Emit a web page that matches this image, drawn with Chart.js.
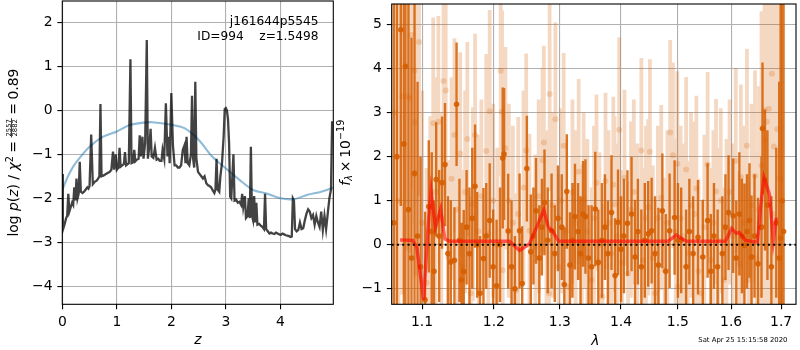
<!DOCTYPE html>
<html><head><meta charset="utf-8">
<script src="https://cdn.jsdelivr.net/npm/chart.js@4/dist/chart.umd.min.js"></script>
<style>
html,body{margin:0;padding:0;background:#fff;}
#wrap{position:relative;width:800px;height:350px;overflow:hidden;}
canvas{position:absolute;left:0;top:0;}
</style></head>
<body><div id="wrap"><canvas id="cl" width="800" height="350"></canvas><canvas id="cr" width="800" height="350"></canvas></div>
<script>
// ---------- LEFT PANEL DATA: log p(z) ----------
const Z = [0.00,0.01,0.04,0.07,0.09,0.11,0.13,0.16,0.18,0.20,0.22,0.24,0.26,0.28,0.30,0.32,0.34,0.37,0.40,0.43,0.46,0.48,0.50,0.53,0.56,0.60,0.63,0.66,0.68,0.70,0.72,0.76,0.80,0.84,0.87,0.90,0.93,0.95,0.98,1.00,1.03,1.05,1.07,1.10,1.13,1.15,1.17,1.20,1.22,1.25,1.27,1.30,1.32,1.34,1.37,1.40,1.42,1.44,1.47,1.49,1.52,1.55,1.57,1.60,1.62,1.64,1.67,1.70,1.73,1.76,1.79,1.82,1.84,1.87,1.90,1.93,1.95,1.97,2.00,2.03,2.06,2.09,2.12,2.15,2.18,2.21,2.24,2.26,2.28,2.30,2.33,2.36,2.38,2.40,2.42,2.44,2.46,2.49,2.52,2.55,2.58,2.61,2.64,2.67,2.70,2.73,2.76,2.79,2.81,2.83,2.85,2.88,2.90,2.93,2.96,2.98,3.00,3.02,3.04,3.06,3.08,3.10,3.12,3.14,3.16,3.19,3.22,3.25,3.28,3.30,3.32,3.35,3.37,3.40,3.42,3.44,3.46,3.48,3.50,3.52,3.54,3.56,3.58,3.61,3.64,3.67,3.70,3.72,3.74,3.77,3.80,3.83,3.86,3.89,3.92,3.95,3.98,4.01,4.04,4.07,4.10,4.13,4.16,4.19,4.21,4.23,4.25,4.27,4.30,4.33,4.36,4.39,4.42,4.45,4.48,4.51,4.54,4.57,4.60,4.63,4.66,4.69,4.72,4.75,4.78,4.81,4.84,4.87,4.90,4.93,4.95];
const LOGPZ = [-1.45,-2.72,-2.60,-2.45,-2.40,-1.90,-2.30,-2.18,-2.10,-2.15,-1.75,-2.05,-1.55,-2.00,-1.90,-1.17,-1.85,-1.88,-1.85,-1.80,-1.75,-1.78,-1.72,-0.55,-1.68,-1.62,-1.60,-1.55,-1.50,0.14,-1.50,-1.48,-1.45,-1.42,-1.40,-1.35,-0.94,-1.35,-1.00,-1.35,-1.30,-0.85,-1.28,-1.25,-1.22,-0.95,-1.25,-1.22,-1.20,1.16,-1.20,-1.18,-0.90,-1.16,-1.12,-1.10,-0.57,-1.05,-0.60,-1.10,-0.75,1.60,-1.10,-0.80,-0.42,-1.05,-1.08,-0.85,-1.12,-1.10,-1.15,-1.15,-0.90,-1.10,0.16,-1.05,-0.60,-1.20,0.39,-0.80,-1.25,-1.25,-1.30,-1.30,-1.25,-0.90,-0.80,-1.20,-0.60,-1.20,-1.25,-1.00,0.33,-1.10,-1.30,0.65,-1.10,-1.40,-1.45,-1.50,-1.55,-1.50,-1.65,-1.70,-1.72,-1.75,-1.82,-1.88,-1.80,-1.10,-1.80,-1.85,-1.50,-1.20,-0.60,0.03,0.05,0.00,-0.20,-0.75,-1.96,-2.00,-1.50,-1.00,-2.05,-2.03,-2.10,-2.08,-2.15,-1.90,-2.20,-1.95,-2.45,-2.40,-2.00,-2.45,-0.83,-2.40,-2.50,-1.95,-2.55,-2.10,-2.60,-2.58,-2.62,-2.65,-2.70,-1.90,-2.70,-2.75,-2.80,-2.78,-2.80,-2.81,-2.78,-2.80,-2.82,-2.83,-2.80,-2.82,-2.84,-2.85,-2.86,-2.88,-2.87,-2.00,-2.05,-2.70,-2.75,-2.72,-2.55,-2.70,-2.68,-2.50,-2.35,-2.25,-2.30,-2.45,-2.38,-2.60,-2.40,-2.55,-2.65,-2.30,-2.72,-2.40,-2.70,-2.35,-2.00,-1.80,-0.25];
const SMOOTH_Z = [0.00,0.10,0.20,0.30,0.50,0.75,1.00,1.25,1.50,1.65,2.00,2.25,2.50,2.75,3.00,3.25,3.50,3.75,4.00,4.25,4.50,4.75,4.97];
const SMOOTH_P = [-1.81,-1.51,-1.28,-1.11,-0.83,-0.60,-0.48,-0.33,-0.28,-0.27,-0.33,-0.41,-0.67,-1.05,-1.32,-1.58,-1.81,-1.89,-2.00,-2.02,-1.92,-1.85,-1.76];
const LEFT_X_TICKS = [0,1,2,3,4];
const LEFT_Y_TICKS = [-4,-3,-2,-1,0,1,2];

// ---------- RIGHT PANEL DATA: spectrum ----------
const DARK_LAM = [1.063,1.067,1.072,1.076,1.078,1.082,1.086,1.090,1.094,1.098,1.104,1.109,1.113,1.116,1.119,1.123,1.127,1.131,1.135,1.139,1.144,1.147,1.151,1.154,1.157,1.161,1.165,1.169,1.173,1.176,1.180,1.185,1.189,1.194,1.199,1.204,1.209,1.213,1.215,1.221,1.226,1.231,1.238,1.242,1.249,1.255,1.259,1.263,1.268,1.272,1.276,1.281,1.287,1.292,1.297,1.303,1.307,1.311,1.316,1.320,1.324,1.329,1.333,1.337,1.341,1.346,1.351,1.357,1.362,1.368,1.373,1.378,1.384,1.390,1.395,1.400,1.405,1.411,1.418,1.424,1.429,1.435,1.441,1.447,1.453,1.459,1.465,1.472,1.478,1.485,1.494,1.500,1.506,1.515,1.521,1.528,1.537,1.546,1.555,1.561,1.567,1.574,1.583,1.589,1.595,1.604,1.610,1.616,1.621,1.626,1.631,1.636,1.640,1.646,1.653,1.660,1.662,1.667,1.672,1.680,1.690,1.696,1.699,1.702,1.705];
const DARK_FLUX = [0.5,2.0,4.88,2.29,4.05,0.8,-0.3,1.62,0.2,-0.5,-1.25,0.87,0.3,-0.6,1.48,0.2,1.41,1.82,-0.2,-0.39,-0.35,3.19,0.1,-0.8,-0.61,0.4,-0.2,0.6,1.33,0.0,-1.10,-0.31,0.2,0.55,-0.5,-0.93,0.0,1.97,2.06,0.31,-0.50,-1.0,0.32,-0.88,1.73,-0.16,0.2,0.77,-0.3,0.4,0.96,0.1,0.32,-0.2,0.6,0.40,-0.9,1.21,-0.46,0.1,0.64,0.3,-0.2,0.7,0.64,-0.3,-0.50,0.81,-0.4,0.1,0.40,-0.2,0.73,-0.70,0.51,-0.1,0.2,0.49,0.70,-0.28,0.3,-0.50,0.1,0.25,0.32,-0.2,-0.46,0.77,-0.6,0.32,0.62,0.1,0.10,-0.50,0.3,-0.20,0.17,-0.28,0.55,-0.6,0.2,-0.50,-0.20,0.4,0.73,0.66,-0.3,0.70,0.2,-0.01,0.3,0.55,-0.28,0.2,-0.43,0.40,2.64,1.47,0.9,-0.5,0.5,-0.3,0.15,1.0,0.3];
const DARK_ERR = [6,5,4,5,6,6,5,4,3.5,2.5,2.0,1.5,1.8,1.6,1.3,1.5,1.5,1.4,1.3,1.4,1.2,1.4,1.4,1.3,1.4,1.3,1.5,1.6,1.4,1.2,1.3,1.6,1.2,1.3,1.3,1.5,1.3,1.6,1.5,1.3,1.5,1.2,1.3,1.3,1.2,1.3,1.1,1.2,1.2,1.1,1.2,1.2,1.3,1.1,1.2,1.2,1.3,1.3,1.2,1.3,1.2,1.1,1.3,1.2,1.3,1.2,1.4,1.3,1.2,1.3,1.2,1.2,1.3,1.3,1.2,1.2,1.3,1.2,1.3,1.3,1.2,1.3,1.3,1.2,1.2,1.3,1.3,1.3,1.3,1.3,1.3,1.3,1.2,1.3,1.2,1.3,1.3,1.3,1.3,1.3,1.2,1.3,1.3,1.2,1.3,1.3,1.3,1.4,1.3,1.4,1.3,1.3,1.4,1.4,1.5,1.6,1.5,1.6,1.7,1.6,1.7,4.0,8,8,8];
const LIGHT_LAM = [1.065,1.069,1.074,1.081,1.084,1.086,1.090,1.091,1.096,1.100,1.106,1.111,1.115,1.118,1.122,1.126,1.129,1.132,1.136,1.140,1.144,1.148,1.152,1.155,1.159,1.162,1.167,1.170,1.173,1.178,1.182,1.189,1.192,1.194,1.199,1.205,1.210,1.212,1.213,1.217,1.222,1.228,1.233,1.236,1.244,1.248,1.253,1.262,1.267,1.273,1.275,1.279,1.283,1.284,1.289,1.293,1.298,1.302,1.306,1.310,1.314,1.320,1.325,1.330,1.335,1.338,1.344,1.351,1.355,1.359,1.364,1.369,1.374,1.379,1.384,1.387,1.389,1.393,1.397,1.402,1.406,1.412,1.417,1.422,1.428,1.435,1.438,1.443,1.447,1.450,1.455,1.459,1.464,1.470,1.476,1.481,1.486,1.491,1.496,1.499,1.500,1.505,1.511,1.515,1.518,1.524,1.531,1.534,1.538,1.543,1.549,1.555,1.561,1.566,1.571,1.575,1.580,1.586,1.591,1.597,1.603,1.609,1.616,1.619,1.624,1.631,1.634,1.640,1.647,1.650,1.655,1.660,1.666,1.667,1.671,1.675,1.681,1.684,1.685,1.692,1.698];
const LIGHT_FLUX = [3.0,1.0,3.37,3.37,3.32,4.76,3.95,2.78,4.6,0.5,-0.86,0.32,2.76,1.2,2.79,0.6,3.72,3.5,-0.28,1.5,2.49,0.8,2.07,-0.5,1.2,2.40,-1.10,0.92,2.49,0.3,1.1,2.13,0.25,3.03,1.0,0.0,3.95,3.02,-0.58,2.19,1.0,0.5,-1.03,0.70,1.3,2.14,0.32,-0.05,1.1,1.92,2.32,0.5,-1.10,3.42,0.9,2.85,-0.50,1.0,2.25,0.3,-0.95,1.2,0.5,1.66,-0.28,1.00,0.3,-0.80,0.6,1.41,0.0,-1.18,1.45,0.5,-0.20,1.36,0.92,0.2,2.61,-0.4,1.52,-0.65,0.8,1.2,0.2,2.14,-0.35,0.6,0.85,2.11,-0.3,-1.10,0.6,1.07,-0.58,0.5,2.55,2.03,0.3,1.84,-0.95,0.6,0.2,1.71,-0.20,0.9,0.70,1.28,-0.6,-1.10,0.4,1.82,-0.35,0.5,1.21,0.1,1.0,-0.80,0.3,1.2,0.2,1.91,-0.43,1.54,0.5,2.25,-0.80,0.9,1.56,-0.31,0.8,1.8,3.06,2.38,2.79,3.09,3.88,0.70,2.23,2.62,1.5];
const LIGHT_ERR = [5,6,4.5,3.5,3.5,3.5,3.5,3.5,3.5,3,2.6,2.6,2.4,2.6,2.4,2.4,2.3,2.4,2.2,2.3,2.2,2.3,2.3,2.2,2.3,2.2,2.2,2.2,2.3,2.2,2.2,2.2,2.2,2.3,2.2,2.2,2.4,2.3,2.2,2.3,2.2,2.2,2.2,2.2,2.2,2.2,2.2,2.1,2.2,2.1,2.2,2.1,2.1,2.2,2.1,2.2,2.1,2.1,2.1,2.1,2.1,2.1,2.1,2.1,2.1,2.0,2.1,2.1,2.1,2.0,2.1,2.1,2.0,2.1,2.1,2.0,2.0,2.1,2.1,2.1,2.0,2.1,2.0,2.1,2.1,2.1,2.1,2.1,2.0,2.1,2.1,2.1,2.1,2.1,2.1,2.1,2.1,2.1,2.1,2.1,2.1,2.1,2.1,2.1,2.1,2.1,2.1,2.1,2.1,2.1,2.1,2.1,2.1,2.1,2.1,2.1,2.1,2.1,2.1,2.1,2.1,2.1,2.1,2.1,2.2,2.2,2.2,2.3,2.4,2.4,2.8,3.5,3.5,4,4.5,4.5,5,5,5,6,6];
const MODEL_LAM = [1.071,1.0875,1.093,1.102,1.108,1.112,1.118,1.125,1.131,1.138,1.223,1.238,1.253,1.275,1.282,1.288,1.298,1.482,1.497,1.515,1.589,1.601,1.610,1.616,1.628,1.652,1.658,1.665,1.676,1.684,1.690];
const MODEL_FLUX = [0.11,0.10,-0.05,-1.25,0.40,1.22,0.40,0.81,0.13,0.08,0.08,-0.13,0.02,0.79,0.40,0.32,0.08,0.08,0.22,0.08,0.08,0.37,0.26,0.28,0.10,0.06,0.85,1.52,1.15,0.10,0.62];
const ZERO_LAM = [1.0602,1.7309];
const RIGHT_X_TICKS = [1.1,1.2,1.3,1.4,1.5,1.6,1.7];
const RIGHT_Y_TICKS = [-1,0,1,2,3,4,5];

// ---------- helpers ----------
const FONT = "'DejaVu Sans'";
const FS = 13.9;
const minus = v => (v < 0 ? '\u2212' : '') + Math.abs(v);
function errSegments(lam, flux, err){
  const out = [];
  lam.forEach((l,i)=>{ out.push({x:l,y:flux[i]-err[i]},{x:l,y:flux[i]+err[i]},{x:l,y:null}); });
  return out;
}
function pts(xs, ys){ return xs.map((x,i)=>({x:x,y:ys[i]})); }

const framePlugin = {
  id:'frame',
  afterDraw(chart){
    const a = chart.chartArea, c = chart.ctx;
    c.save(); c.strokeStyle='#000'; c.lineWidth=1.1;
    c.strokeRect(a.left, a.top, a.right-a.left, a.bottom-a.top);
    c.restore();
  }
};

// rich text, rotated -90deg, centred at (bx, cy) with baseline at x=bx
function drawRich(c, parts, bx, cy){
  c.save();
  const font = (p)=> (p.it?'italic ':'') + (FS*(p.s||1)).toFixed(2)+'px '+FONT;
  let W = 0;
  parts.forEach(p=>{
    if (p.sp){ p.w = p.sp; }
    else if (p.frac){ c.font = font({s:p.s}); p.w = Math.max(c.measureText(p.frac[0]).width, c.measureText(p.frac[1]).width)+2; }
    else { c.font = font(p); p.w = c.measureText(p.t).width; }
    W += p.w;
  });
  c.translate(bx, cy); c.rotate(-Math.PI/2);
  let x = -W/2;
  c.fillStyle='#000'; c.textBaseline='alphabetic'; c.textAlign='left';
  parts.forEach(p=>{
    if (p.sp){}
    else if (p.frac){
      c.font = font({s:p.s});
      const wn = c.measureText(p.frac[0]).width, wd = c.measureText(p.frac[1]).width;
      c.fillText(p.frac[0], x + (p.w-wn)/2, -p.nb);
      c.fillText(p.frac[1], x + (p.w-wd)/2, -p.db);
      c.fillRect(x, -p.bar-0.35, p.w, 0.75);
    } else {
      c.font = font(p);
      c.fillText(p.t, x, -(p.dy||0));
    }
    x += p.w;
  });
  c.restore();
}

const leftText = {
  id:'leftText',
  afterDraw(chart){
    const c = chart.ctx;
    c.save();
    c.fillStyle='#000';
    c.font = '12.2px '+FONT; c.textAlign='right'; c.textBaseline='alphabetic';
    c.fillText('j161644p5545', 318.5, 25);
    c.fillText('ID=994    z=1.5498', 318.5, 39.5);
    c.font = 'italic '+FS+'px '+FONT; c.textAlign='center';
    c.fillText('z', 197.8, 344);
    c.restore();
    drawRich(c, [
      {t:'log'},{sp:4.4},{t:'p',it:true},{t:'('},{t:'z',it:true},{t:')'},{t:' / '},
      {t:'\u03c7',it:true},{t:'2',s:0.7,dy:5},{sp:3.5},{t:'='},{sp:3.5},
      {frac:['2557','2882'],s:0.49,nb:7.0,db:0.2,bar:5.9},{sp:3.5},{t:'='},{sp:3.5},{t:'0.89'}
    ], 17.5, 152.6);
  }
};

const rightText = {
  id:'rightText',
  afterDraw(chart){
    const c = chart.ctx;
    c.save();
    c.fillStyle='#000';
    c.font = 'italic '+FS+'px '+FONT; c.textAlign='center'; c.textBaseline='alphabetic';
    c.fillText('\u03bb', 595.3, 344.5);
    c.font = '6.9px '+FONT; c.textAlign='right';
    c.fillText('Sat Apr 25 15:15:58 2020', 787.5, 342);
    c.restore();
    drawRich(c, [
      {t:'f',it:true},{t:'\u03bb',it:true,s:0.7,dy:-2.8},{sp:2.8},{t:'\u00d7'},{sp:2.8},{t:'10'},{t:'\u221219',s:0.7,dy:5.8}
    ], 349.5, 152.6);
  }
};

function axisCommon(ticksArr, fmt, fitFn){
  return {
    afterBuildTicks: s => { s.ticks = ticksArr.map(v=>({value:v})); },
    afterFit: s => { fitFn(s); s.paddingTop = 0; s.paddingBottom = 0; s.paddingLeft = 0; s.paddingRight = 0; },
    grid:{color:'#b0b0b0', lineWidth:1.1, tickColor:'#000', tickLength:4.9, tickWidth:1.1, drawOnChartArea:true},
    border:{display:false},
    ticks:{font:{family:'DejaVu Sans', size:FS}, color:'#000', padding:4.9, maxRotation:0, autoSkip:false,
      callback:(v)=>fmt(v)}
  };
}

// ---------- LEFT CHART ----------
new Chart(document.getElementById('cl'), {
  type:'scatter',
  data:{datasets:[
    {data:pts(Z,LOGPZ), showLine:true, borderColor:'rgba(0,0,0,0.74)', borderWidth:2.3, pointRadius:0, tension:0, order:0},
    {data:pts(SMOOTH_Z,SMOOTH_P), showLine:true, borderColor:'rgba(31,119,180,0.5)', borderWidth:2.1, pointRadius:0, tension:0.3, order:1}
  ]},
  options:{
    responsive:false, animation:false, events:[],
    layout:{padding:{left:0, right:466.7, top:1, bottom:0}},
    plugins:{legend:{display:false}, tooltip:{enabled:false}},
    scales:{
      x:Object.assign({type:'linear', min:0, max:4.972, bounds:'data'}, axisCommon(LEFT_X_TICKS, v=>minus(v), s=>{s.height=45.7;})),
      y:Object.assign({type:'linear', min:-4.409, max:2.484, bounds:'data'}, axisCommon(LEFT_Y_TICKS, v=>minus(v), s=>{s.width=62.3;}))
    }
  },
  plugins:[framePlugin, leftText]
});

// ---------- RIGHT CHART ----------
const ORANGE = '213,94,0';
new Chart(document.getElementById('cr'), {
  type:'scatter',
  data:{datasets:[
    {data:errSegments(LIGHT_LAM,LIGHT_FLUX,LIGHT_ERR), showLine:true, spanGaps:false, borderColor:'rgba('+ORANGE+',0.24)', borderWidth:3.8, pointRadius:0, order:5, clip:0},
    {data:pts(LIGHT_LAM,LIGHT_FLUX), pointRadius:3, pointBackgroundColor:'rgba('+ORANGE+',0.22)', pointBorderWidth:0, order:4, clip:0},
    {data:errSegments(DARK_LAM,DARK_FLUX,DARK_ERR), showLine:true, spanGaps:false, borderColor:'rgba('+ORANGE+',0.85)', borderWidth:2.4, pointRadius:0, order:3, clip:0},
    {data:pts(DARK_LAM,DARK_FLUX), pointRadius:2.8, pointBackgroundColor:'rgba('+ORANGE+',0.9)', pointBorderWidth:0, order:2, clip:0},
    {data:pts(MODEL_LAM,MODEL_FLUX), showLine:true, borderColor:'rgba(255,0,0,0.6)', borderWidth:3.4, pointRadius:0, tension:0, order:1, clip:0},
    {data:pts(ZERO_LAM,[0,0]), showLine:true, borderColor:'#000', borderWidth:2, borderDash:[2,3.3], pointRadius:0, order:0, clip:0}
  ]},
  options:{
    responsive:false, animation:false, events:[],
    layout:{padding:{left:351.7, right:1, top:1, bottom:0}},
    plugins:{legend:{display:false}, tooltip:{enabled:false}},
    scales:{
      x:Object.assign({type:'logarithmic', min:1.06024, max:1.7309, bounds:'data'}, axisCommon(RIGHT_X_TICKS, v=>Number(v).toFixed(1), s=>{s.height=45.7;})),
      y:Object.assign({type:'linear', min:-1.351, max:5.465, bounds:'data'}, axisCommon(RIGHT_Y_TICKS, v=>minus(v), s=>{s.width=40;}))
    }
  },
  plugins:[framePlugin, rightText]
});
</script>
</body></html>
